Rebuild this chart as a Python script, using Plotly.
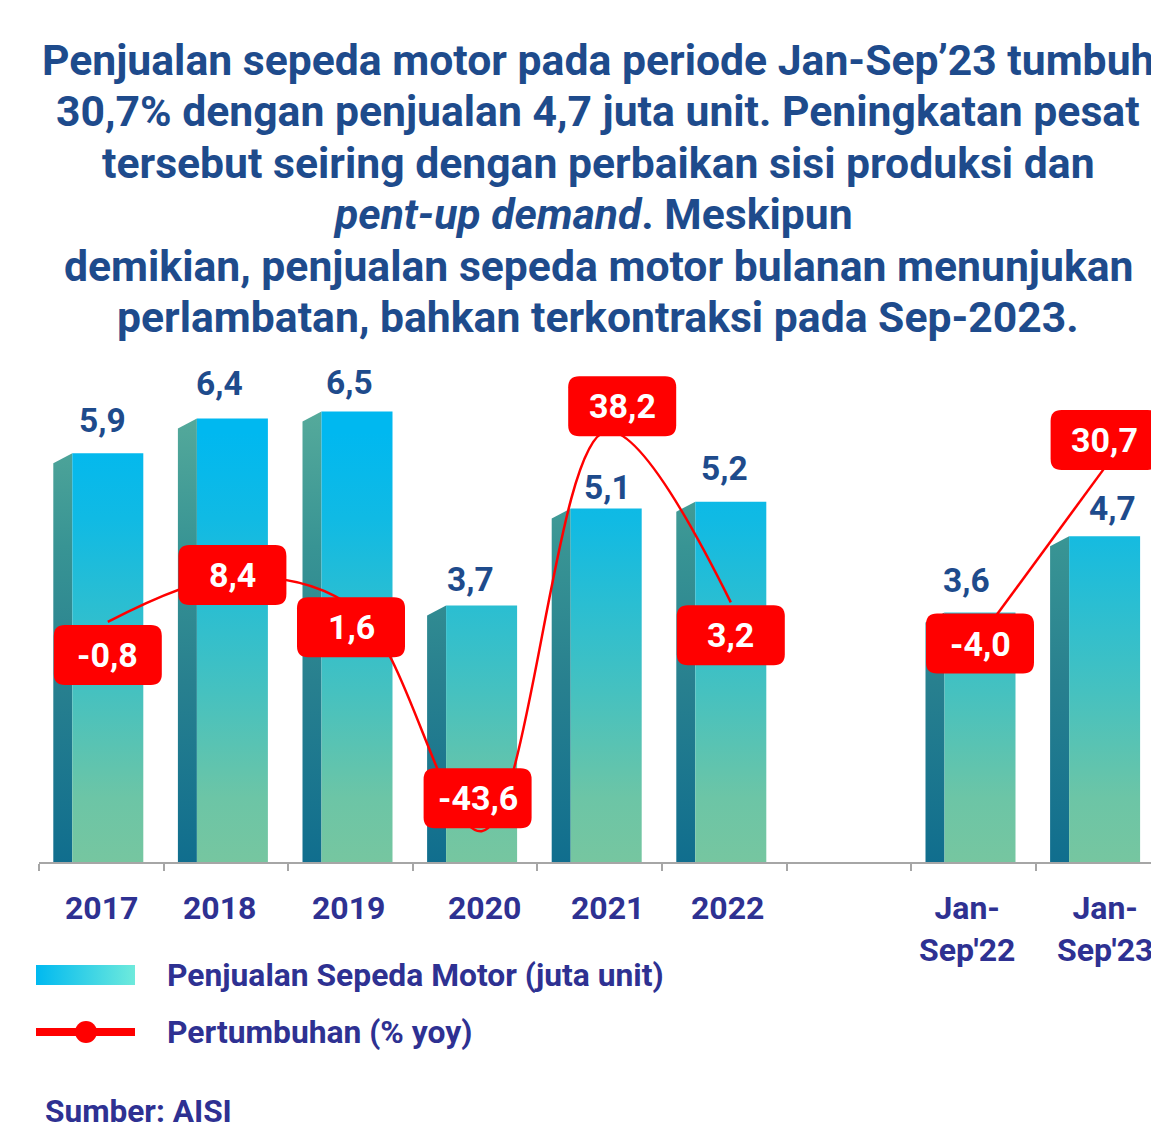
import plotly.graph_objects as go

W, H = 1151, 1129

# ---------------- data ----------------
categories = ["2017", "2018", "2019", "2020", "2021", "2022", "", "Jan-<br>Sep'22", "Jan-<br>Sep'23"]
sales = [5.9, 6.4, 6.5, 3.7, 5.1, 5.2, None, 3.6, 4.7]           # juta unit
growth = [-0.8, 8.4, 1.6, -43.6, 38.2, 3.2, None, -4.0, 30.7]    # % yoy

# hand placed label nudges in px (x right, y up)
sales_label_shift = [(1, 33), (-6, 35), (-1, 29), (-5, 26), (8, 21), (0, 33), None, (-7, 32), (14, 28)]
growth_label_shift = [(0, -33), (0, 2), (-6, -17), (-4, 33), (16, 25), (0, -33), None, (0, -6), (0, 28)]
cat_label_shift = [0, -6, -2, 9, 8, 3, 0, -7, 7]

TITLE_LINES = [
    "Penjualan sepeda motor pada periode Jan-Sep\u201923 tumbuh",
    "30,7% dengan penjualan 4,7 juta unit. Peningkatan pesat",
    "tersebut seiring dengan perbaikan sisi produksi dan",
    "<i>pent-up demand</i>. Meskipun ",
    "demikian, penjualan sepeda motor bulanan menunjukan",
    "perlambatan, bahkan terkontraksi pada Sep-2023.",
]

# ---------------- geometry (pixels) ----------------
PLOT_L, PLOT_R, PLOT_T, PLOT_B = 39, 1151, 355, 862
SLOT = 124.6          # px per category
BAR_PX = 69.3         # px per juta unit
LINE_ZERO = 618       # px of 0 % on growth axis
LINE_PX = 4.89        # px per %

x_range = [-0.5, -0.5 + (PLOT_R - PLOT_L) / SLOT]
y_range = [0, (PLOT_B - PLOT_T) / BAR_PX]
y2_range = [-(PLOT_B - LINE_ZERO) / LINE_PX, (LINE_ZERO - PLOT_T) / LINE_PX]

front_l, front_r = -29 / SLOT, 42 / SLOT
side_l = -48 / SLOT
depth = 10 / BAR_PX
line_dx = 6.5 / SLOT

NAVY = "#1E4B8C"
PURPLE = "#2E3192"
FONT = "Roboto"

front_cs = [[0, "#76C6A0"], [0.15, "#6CC5A6"], [0.4, "#45C1C0"],
            [0.6, "#2ABED2"], [0.8, "#10BAE4"], [1, "#00B8F0"]]
side_cs = [[0, "#106E8E"], [0.4, "#28808F"], [0.7, "#389494"], [1, "#55AA9B"]]


def fmt(v):
    return f"{v:.1f}".replace(".", ",")


def rrect(cx, cy, w, h, r):
    x0, x1 = cx - w / 2, cx + w / 2
    y0, y1 = cy - h / 2, cy + h / 2
    return (f"M{x0 + r},{y0} L{x1 - r},{y0} Q{x1},{y0} {x1},{y0 + r} "
            f"L{x1},{y1 - r} Q{x1},{y1} {x1 - r},{y1} L{x0 + r},{y1} "
            f"Q{x0},{y1} {x0},{y1 - r} L{x0},{y0 + r} Q{x0},{y0} {x0 + r},{y0} Z")


fig = go.Figure()

# ---------------- 3D-ish bars ----------------
for i, v in enumerate(sales):
    if v is None:
        continue
    # side face
    fig.add_trace(go.Scatter(
        x=[i + side_l, i + front_l, i + front_l, i + side_l, i + side_l],
        y=[0, 0, v, v - depth, 0],
        fill="toself", mode="lines", line=dict(width=0),
        fillgradient=dict(type="vertical", colorscale=side_cs, start=0, stop=6.5),
        hoverinfo="skip", showlegend=False))
    # front face
    fig.add_trace(go.Scatter(
        x=[i + front_l, i + front_r, i + front_r, i + front_l, i + front_l],
        y=[0, 0, v, v, 0],
        fill="toself", mode="lines", line=dict(width=0),
        fillgradient=dict(type="vertical", colorscale=front_cs, start=0, stop=6.2),
        hoverinfo="skip", showlegend=False))

# ---------------- growth line ----------------
fig.add_trace(go.Scatter(
    x=[i + line_dx for i in range(len(growth))], y=growth, yaxis="y2",
    mode="lines", line=dict(color="#FF0000", width=2.5, shape="spline", smoothing=1),
    connectgaps=False, hoverinfo="skip", showlegend=False))

annotations = []
shapes = []

# bar value labels
for i, v in enumerate(sales):
    if v is None:
        continue
    dx, dy = sales_label_shift[i]
    annotations.append(dict(
        x=i, y=v, xref="x", yref="y", xshift=dx, yshift=dy, yanchor="middle", showarrow=False,
        text=fmt(v), font=dict(family=FONT, size=33.5, color=NAVY, weight="bold")))

# growth labels (red rounded boxes)
for i, g in enumerate(growth):
    if g is None:
        continue
    dx, dy = growth_label_shift[i]
    shapes.append(dict(
        type="path", xref="x", yref="y2", xsizemode="pixel", ysizemode="pixel",
        xanchor=i + line_dx, yanchor=g, path=rrect(dx, dy, 108, 60, 11),
        fillcolor="#FF0000", line=dict(width=0), layer="above"))
    annotations.append(dict(
        x=i + line_dx, y=g, xref="x", yref="y2", xshift=dx, yshift=dy,
        showarrow=False, text=fmt(g),
        font=dict(family=FONT, size=34, color="white", weight="bold")))

# category labels
for i, c in enumerate(categories):
    if not c:
        continue
    annotations.append(dict(
        x=i, y=1 - PLOT_B / H, xref="x", yref="paper", yanchor="top",
        xshift=cat_label_shift[i], yshift=-25,
        showarrow=False, text=c, align="center",
        font=dict(family=FONT, size=32, color=PURPLE, weight="bold")))

# title, one annotation per line to keep the tight leading
for k, line in enumerate(TITLE_LINES):
    annotations.append(dict(
        x=598 / W, y=1 - (60 + 51.4 * k) / H, xref="paper", yref="paper",
        xanchor="center", yanchor="middle", showarrow=False, text=line,
        font=dict(family=FONT, size=42.7, color=NAVY, weight="bold")))

# legend + source
legend_font = dict(family=FONT, size=31.8, color=PURPLE, weight="bold")
annotations.append(dict(x=165 / W, y=1 - 975 / H, xref="paper", yref="paper",
                        xanchor="left", yanchor="middle", showarrow=False,
                        text="Penjualan Sepeda Motor (juta unit)", font=legend_font))
annotations.append(dict(x=165 / W, y=1 - 1032 / H, xref="paper", yref="paper",
                        xanchor="left", yanchor="middle", showarrow=False,
                        text="Pertumbuhan (% yoy)", font=legend_font))
annotations.append(dict(x=43 / W, y=1 - 1111 / H, xref="paper", yref="paper",
                        xanchor="left", yanchor="middle", showarrow=False,
                        text="Sumber: AISI", font=dict(family=FONT, size=31.6, color=PURPLE, weight="bold")))

# legend swatches on a pixel-space overlay axis
fig.add_trace(go.Scatter(
    x=[36, 135, 135, 36, 36], y=[965, 965, 985, 985, 965], xaxis="x2", yaxis="y3",
    fill="toself", mode="lines", line=dict(width=0),
    fillgradient=dict(type="horizontal", colorscale=[[0, "#00B9F0"], [1, "#6EEADC"]], start=36, stop=135),
    hoverinfo="skip", showlegend=False))
fig.add_trace(go.Scatter(
    x=[36, 135], y=[1032, 1032], xaxis="x2", yaxis="y3", mode="lines",
    line=dict(color="#FF0000", width=8), hoverinfo="skip", showlegend=False))
fig.add_trace(go.Scatter(
    x=[86], y=[1032], xaxis="x2", yaxis="y3", mode="markers",
    marker=dict(color="#FF0000", size=22), hoverinfo="skip", showlegend=False))

fig.update_layout(
    width=W, height=H,
    margin=dict(l=0, r=0, t=0, b=0),
    paper_bgcolor="white", plot_bgcolor="rgba(0,0,0,0)",
    showlegend=False,
    xaxis=dict(domain=[PLOT_L / W, 1], range=x_range, showgrid=False, zeroline=False,
               tickvals=[k - 0.5 for k in range(len(categories) + 1)],
               ticktext=[""] * (len(categories) + 1),
               ticks="outside", ticklen=7, tickwidth=2, tickcolor="#A6A6A6",
               showline=True, linecolor="#A6A6A6", linewidth=2, anchor="y"),
    yaxis=dict(domain=[1 - PLOT_B / H, 1 - PLOT_T / H], range=y_range, visible=False),
    yaxis2=dict(range=y2_range, overlaying="y", visible=False),
    xaxis2=dict(domain=[0, 1], range=[0, W], visible=False, anchor="y3"),
    yaxis3=dict(domain=[0, 1], range=[H, 0], visible=False, anchor="x2"),
    annotations=annotations,
    shapes=shapes,
)

# drop the browser's default 8px body margin so the figure fills the window
fig.write_html("out.html", config={"displayModeBar": False},
               post_script="document.body.style.margin='0';document.body.style.overflow='hidden';")
